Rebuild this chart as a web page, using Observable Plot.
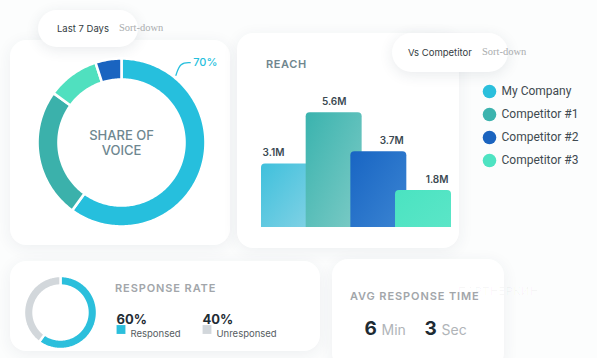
<!DOCTYPE html>
<html>
<head>
<meta charset="utf-8">
<script src="https://cdn.jsdelivr.net/npm/d3@7"></script>
<script src="https://cdn.jsdelivr.net/npm/@observablehq/plot@0.6"></script>
<style>
  html, body { margin: 0; padding: 0; }
  body { width: 597px; height: 358px; overflow: hidden; position: relative; background: #fcfdfd; font-family: Inter, "Noto Sans", sans-serif; }
  .card { position: absolute; background: #ffffff; border-radius: 16px; box-shadow: 0 3px 16px rgba(40,60,80,0.07); }
  .pill { position: absolute; background: #ffffff; border-radius: 20px; box-shadow: 0 3px 14px rgba(40,60,80,0.10); }
  .t { position: absolute; white-space: nowrap; height: 16px; line-height: 16px; }
  .pilltext { font-size: 9.5px; color: #333c42; }
  .sort { font-family: "Liberation Serif", "DejaVu Serif", serif; font-size: 10.5px; color: #a9acae; }
  .title { font-size: 11px; font-weight: 600; letter-spacing: 0.9px; color: #a2a6aa; }
  .plot { position: absolute; }
</style>
</head>
<body>
<div class="card" style="left:10px;top:40px;width:220px;height:205px;"></div>
<div class="card" style="left:237px;top:33px;width:222px;height:215px;"></div>
<div class="card" style="left:10px;top:261px;width:310px;height:90px;"></div>
<div class="card" style="left:332px;top:259px;width:172px;height:110px;"></div>

<div class="pill" style="left:38px;top:10px;width:100px;height:37px;"></div>
<div class="pill" style="left:392px;top:33px;width:116px;height:39px;"></div>

<div class="t pilltext" style="left:57px;top:21px;">Last 7 Days</div>
<div class="t sort" style="left:119px;top:20px;">Sort-down</div>
<div class="t pilltext" style="left:408px;top:45px;">Vs Competitor</div>
<div class="t sort" style="left:482px;top:44px;">Sort-down</div>

<div class="t title" style="left:266px;top:56px;color:#6f868e;letter-spacing:0.6px;">REACH</div>
<div class="t title" style="left:115px;top:280px;">RESPONSE RATE</div>
<div class="t" style="left:458px;top:283px;font-size:11px;color:rgba(0,0,0,0.035);letter-spacing:0.5px;">ПАРТНЕРКИН</div>
<div class="t title" style="left:350px;top:288px;">AVG RESPONSE TIME</div>

<script>
// ---------- data ----------
const companies = ["My Company", "Competitor #1", "Competitor #2", "Competitor #3"];
const companyColors = ["#2bbfdc", "#3cb3ae", "#1b64bf", "#4ee3c2"];
const reachValues = [3.1, 5.6, 3.7, 1.8];
const reachLabels = ["3.1M", "5.6M", "3.7M", "1.8M"];
const shareNames = ["My Company", "Competitor #1", "Competitor #3", "Competitor #2"];
const shareValues = [60, 25, 10, 5];
const shareCallout = "70%";
const shareTitle = "SHARE OF\nVOICE";
const responseNames = ["Responsed", "Unresponsed"];
const responseValues = [60, 40];
const responseColors = ["#2bbfdc", "#d2d7db"];
const timeValues = [6, 3];
const timeUnits = ["Min", "Sec"];

// ---------- helpers ----------
function ring(names, values, rIn, rOut) {
  const total = d3.sum(values);
  const pts = [];
  let acc = 0;
  names.forEach((n, i) => {
    const a0 = acc / total * 2 * Math.PI;
    acc += values[i];
    const a1 = acc / total * 2 * Math.PI;
    const N = Math.max(6, Math.ceil((a1 - a0) / 0.02));
    for (let k = 0; k <= N; k++) { const a = a0 + (a1 - a0) * k / N; pts.push({name: n, x: rOut * Math.sin(a), y: rOut * Math.cos(a)}); }
    for (let k = N; k >= 0; k--) { const a = a0 + (a1 - a0) * k / N; pts.push({name: n, x: rIn * Math.sin(a), y: rIn * Math.cos(a)}); }
    pts.push({name: n, x: rOut * Math.sin(a0), y: rOut * Math.cos(a0)});
  });
  return pts;
}
function place(svg, left, top) {
  svg.classList.add("plot");
  svg.style.left = left + "px";
  svg.style.top = top + "px";
  document.body.appendChild(svg);
}
const baseStyle = {background: "transparent", overflow: "visible", fontFamily: "Inter, 'Noto Sans', sans-serif"};

// ---------- Share of voice donut ----------
const calloutAngle = 39 * Math.PI / 180;
const cx0 = 1.03 * Math.sin(calloutAngle), cy0 = 1.03 * Math.cos(calloutAngle);
const leader = [
  {x: cx0, y: cy0},
  {x: cx0 + 0.05, y: cy0 + 0.15},
  {x: cx0 + 0.17, y: cy0 + 0.15}
];
const R1 = 84;
const share = Plot.plot({
  width: 220, height: 205, margin: 0,
  style: baseStyle,
  x: {domain: [-1, 1], range: [111 - R1, 111 + R1], axis: null},
  y: {domain: [-1, 1], range: [102 + R1, 102 - R1], axis: null},
  color: {domain: ["My Company", "Competitor #1", "Competitor #2", "Competitor #3"], range: ["#26bfdd", "#3bb1ab", "#1a64c0", "#50e0bf"]},
  marks: [
    Plot.line(ring(shareNames, shareValues, 0.75, 1.0), {x: "x", y: "y", z: "name", fill: "name", stroke: "white", strokeWidth: 2.6, strokeLinejoin: "round"}),
    Plot.line(leader, {x: "x", y: "y", curve: "basis", stroke: "#26bfdd", strokeWidth: 1.3}),
    Plot.text([shareCallout], {x: leader[2].x, y: leader[2].y, text: d => d, dx: 3, textAnchor: "start", fill: "#26bfdd", fontSize: 11, fontWeight: 500}),
    Plot.text([shareTitle], {x: 0, y: 0, text: d => d, fill: "#6e8790", fontSize: 13, fontWeight: 500, lineHeight: 1.2})
  ]
});
place(share, 10, 40);

// ---------- Reach bars ----------
const reachData = companies.map((c, i) => ({name: c, i, value: reachValues[i], label: reachLabels[i]}));
const barW = 1.253;
const reach = Plot.plot({
  width: 220, height: 215,
  marginLeft: 24, marginRight: 6, marginTop: 30, marginBottom: 21,
  style: baseStyle,
  x: {domain: [0, 4.253], axis: null},
  y: {domain: [0, 8], axis: null},
  color: {domain: companies, range: ["url(#gb0)", "url(#gb1)", "url(#gb2)", "url(#gb3)"]},
  marks: [
    Plot.rect(reachData, {x1: "i", x2: d => d.i + barW, y1: -0.4, y2: "value", fill: "name", rx: 4, clip: true}),
    Plot.text(reachData.filter(d => d.i === 0), {x: "i", y: "value", text: "label", textAnchor: "start", dx: 1, dy: -8, lineAnchor: "bottom", fill: "#3b4a52", fontSize: 10, fontWeight: 600}),
    Plot.text(reachData.filter(d => d.i === 1), {x: d => d.i + barW / 2, y: "value", text: "label", textAnchor: "middle", dy: -8, lineAnchor: "bottom", fill: "#3b4a52", fontSize: 10, fontWeight: 600}),
    Plot.text(reachData.filter(d => d.i >= 2), {x: d => d.i + barW, y: "value", text: "label", textAnchor: "end", dx: -3, dy: -8, lineAnchor: "bottom", fill: "#3b4a52", fontSize: 10, fontWeight: 600})
  ]
});
const grads = [
  ["#3fc0dc", "#8ad4e6"],
  ["#3ab3ae", "#80ccc7"],
  ["#1865c3", "#3d86d3"],
  ["#4ae3c1", "#5de6c8"]
];
const defs = d3.select(reach).insert("defs", ":first-child");
grads.forEach((g, i) => {
  const lg = defs.append("linearGradient").attr("id", "gb" + i).attr("x1", 0).attr("y1", 0).attr("x2", 1).attr("y2", 1);
  lg.append("stop").attr("offset", "0%").attr("stop-color", g[0]);
  lg.append("stop").attr("offset", "100%").attr("stop-color", g[1]);
});
place(reach, 237, 33);

// ---------- Legend ----------
const legend = Plot.plot({
  width: 127, height: 100, margin: 0,
  style: baseStyle,
  y: {type: "point", domain: companies, range: [15, 85], padding: 0, axis: null},
  color: {domain: companies, range: companyColors},
  marks: [
    Plot.dot(companies, {y: d => d, frameAnchor: "left", dx: 19, r: 6.8, fill: d => d, stroke: null}),
    Plot.text(companies, {y: d => d, text: d => d, frameAnchor: "left", dx: 31, textAnchor: "start", fill: "#3f4a50", fontSize: 12, fontFamily: "Roboto, sans-serif"})
  ]
});
place(legend, 470, 75);

// ---------- Response rate donut ----------
const R2 = 36.5;
const resp = Plot.plot({
  width: 92, height: 92, margin: 0,
  style: baseStyle,
  x: {domain: [-1, 1], range: [46 - R2, 46 + R2], axis: null},
  y: {domain: [-1, 1], range: [46 + R2, 46 - R2], axis: null},
  color: {domain: responseNames, range: responseColors},
  marks: [
    Plot.line(ring(responseNames, responseValues, 0.74, 1.0), {x: "x", y: "y", z: "name", fill: "name", stroke: "white", strokeWidth: 2.4, strokeLinejoin: "round"})
  ]
});
place(resp, 14, 266);

// ---------- Response legend ----------
const respData = responseNames.map((n, i) => ({name: n, value: responseValues[i]}));
const respLegend = Plot.plot({
  width: 210, height: 42, margin: 0,
  style: baseStyle,
  x: {type: "point", domain: responseNames, range: [6, 92], padding: 0, axis: null},
  color: {domain: responseNames, range: responseColors},
  marks: [
    Plot.text(respData, {x: "name", text: d => d.value + "%", frameAnchor: "top", dy: 14, textAnchor: "start", fill: "#1f2d35", fontSize: 13, fontWeight: 700}),
    Plot.dot(respData, {x: "name", frameAnchor: "top", dx: 4.5, dy: 29, symbol: "square", r: 5, fill: "name", stroke: null}),
    Plot.text(respData, {x: "name", text: "name", frameAnchor: "top", dx: 14, dy: 30, textAnchor: "start", fill: "#565d62", fontSize: 9.5})
  ]
});
place(respLegend, 110, 300);

// ---------- Avg response time ----------
const timeData = timeUnits.map((u, i) => ({unit: u, value: timeValues[i]}));
const timePlot = Plot.plot({
  width: 150, height: 35, margin: 0,
  style: baseStyle,
  x: {type: "point", domain: timeUnits, range: [14, 74], padding: 0, axis: null},
  marks: [
    Plot.text(timeData, {x: "unit", text: d => String(d.value), frameAnchor: "top", dy: 24, lineAnchor: "bottom", textAnchor: "start", fill: "#1e2b33", fontSize: 19, fontWeight: 700}),
    Plot.text(timeData, {x: "unit", text: "unit", frameAnchor: "top", dx: 17, dy: 24, lineAnchor: "bottom", textAnchor: "start", fill: "#b0b4b8", fontSize: 14})
  ]
});
place(timePlot, 350, 310);
</script>
</body>
</html>
